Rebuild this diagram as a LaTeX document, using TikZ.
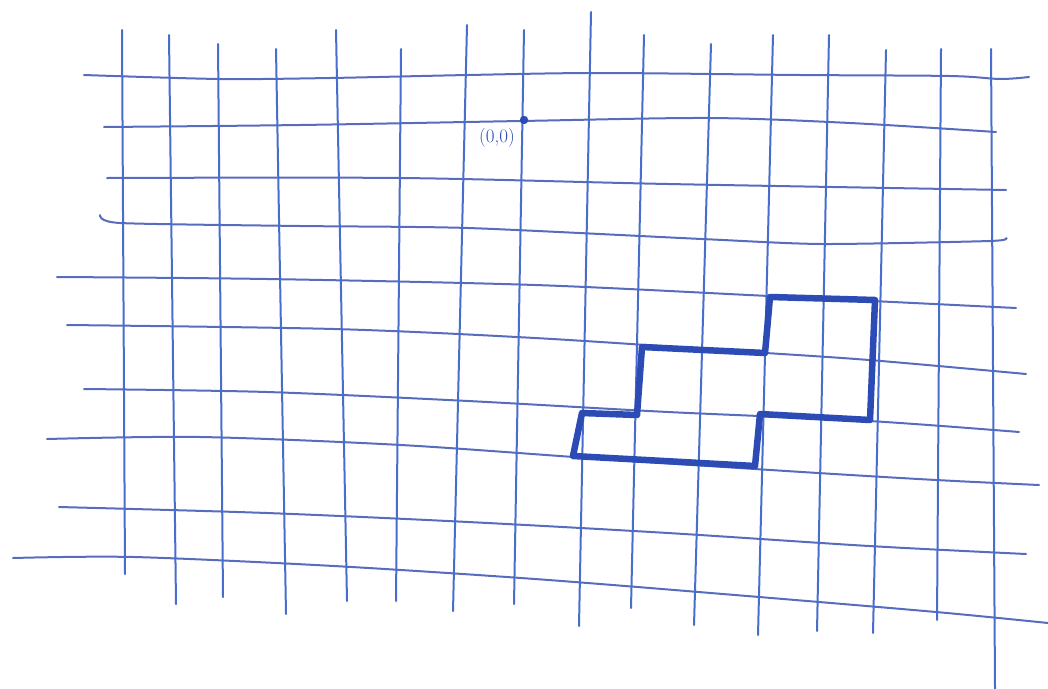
\documentclass[tikz,border=0pt]{standalone}
\usepackage{fontspec}
\begin{document}
\begin{tikzpicture}[x=1pt,y=-1pt,
  gridh/.style={draw=hcol,line width=2pt,line cap=round},
  gridv/.style={draw=vcol,line width=2pt,line cap=round},
  outline/.style={draw=scol,line width=6.5pt,line join=round,line cap=round},
  lbl/.style={text=scol,font=\fontsize{19}{19}\selectfont,inner sep=0pt}]
\definecolor{hcol}{RGB}{88,108,190}
\definecolor{vcol}{RGB}{72,110,205}
\definecolor{scol}{RGB}{45,75,180}
\useasboundingbox (0,0) rectangle (1048,688);
\fill[white] (0,0) rectangle (1048,688);
% horizontal lines
\draw[gridh] plot[smooth] coordinates {(84,75) (220,79) (330,78) (468,75) (600,73) (800,75) (950,76) (1000,79) (1029,77)};
\draw[gridh] plot[smooth] coordinates {(104,127) (300,125) (521,121) (709,118) (850,123) (996,132)};
\draw[gridh] plot[smooth] coordinates {(107,178) (401,178) (668,184) (1006,190)};
\draw[gridh] plot[smooth,tension=0.4] coordinates {(100,215) (120,223) (300,226) (468,228) (702,239) (822,244) (990,241) (1006,238)};
\draw[gridh] plot[smooth] coordinates {(57,277) (267,279) (535,285) (769,296) (1016,308)};
\draw[gridh] plot[smooth] coordinates {(67,325) (334,329) (535,338) (735,351) (869,360) (1026,374)};
\draw[gridh] plot[smooth] coordinates {(84,389) (267,392) (468,401) (668,412) (869,421) (1019,432)};
\draw[gridh] plot[smooth] coordinates {(47,439) (200,437) (401,445) (602,459) (802,472) (936,480) (1039,485)};
\draw[gridh] plot[smooth] coordinates {(59,507) (267,513) (468,522) (668,533) (869,546) (1026,554)};
\draw[gridh] plot[smooth] coordinates {(13,558) (134,557) (334,566) (535,579) (735,595) (936,612) (1048,623)};
% vertical lines
\draw[gridv] (122,30) -- (125,574);
\draw[gridv] (169,35) -- (176,604);
\draw[gridv] (218,44) -- (223,597);
\draw[gridv] (276,49) -- (286,614);
\draw[gridv] (336,30) -- (347,601);
\draw[gridv] (401,49) -- (396,601);
\draw[gridv] (467,25) -- (453,611);
\draw[gridv] (524,30) -- (514,604);
\draw[gridv] (591,12) -- (579,626);
\draw[gridv] (644,35) -- (631,608);
\draw[gridv] (711,44) -- (694,625);
\draw[gridv] (773,35) -- (758,635);
\draw[gridv] (829,35) -- (817,631);
\draw[gridv] (886,50) -- (873,633);
\draw[gridv] (941,49) -- (937,620);
\draw[gridv] (991,49) -- (995,689);
% outlined shape
\draw[outline] (573,456) -- (582,413) -- (637,415) -- (642,347) -- (765,353) -- (770,297) -- (875,300) -- (870,420) -- (760,414) -- (755,466) -- cycle;
% origin
\fill[scol] (524,120) circle (4.2pt);
\node[lbl] (origin) at (497,138) {(0,0)};
\end{tikzpicture}
\end{document}
